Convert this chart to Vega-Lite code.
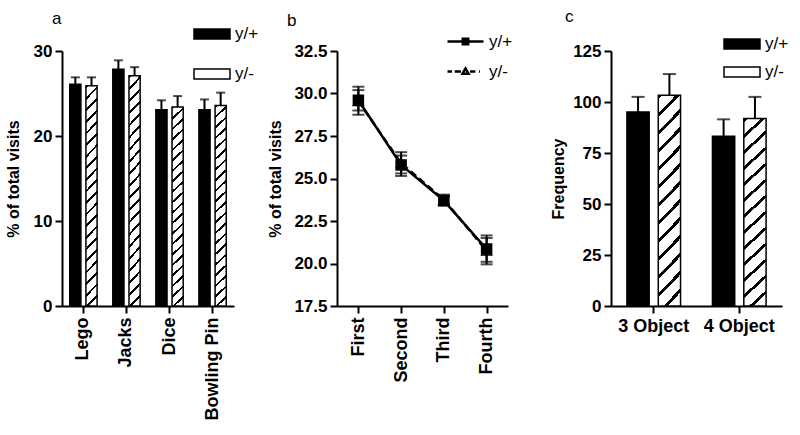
{
  "$schema": "https://vega.github.io/schema/vega-lite/v6.json",
  "background": "white",
  "padding": {"left": 5, "top": 8, "right": 5, "bottom": 5},
  "datasets": {
    "objects": [
      {"object": "Lego", "genotype": "y/+", "mean": 26.1, "upper": 26.9},
      {"object": "Lego", "genotype": "y/-", "mean": 25.9, "upper": 26.9},
      {"object": "Jacks", "genotype": "y/+", "mean": 27.85, "upper": 28.9},
      {"object": "Jacks", "genotype": "y/-", "mean": 27.1, "upper": 28.1},
      {"object": "Dice", "genotype": "y/+", "mean": 23.1, "upper": 24.2},
      {"object": "Dice", "genotype": "y/-", "mean": 23.4, "upper": 24.7},
      {"object": "Bowling Pin", "genotype": "y/+", "mean": 23.1, "upper": 24.3},
      {"object": "Bowling Pin", "genotype": "y/-", "mean": 23.6, "upper": 25.1}
    ],
    "sessions": [
      {"session": "First", "genotype": "y/-", "mean": 29.55, "lower": 28.75, "upper": 30.4},
      {"session": "Second", "genotype": "y/-", "mean": 25.9, "lower": 25.15, "upper": 26.55},
      {"session": "Third", "genotype": "y/-", "mean": 23.75, "lower": 23.4, "upper": 24.05},
      {"session": "Fourth", "genotype": "y/-", "mean": 20.75, "lower": 19.95, "upper": 21.65},
      {"session": "First", "genotype": "y/+", "mean": 29.6, "lower": 29.0, "upper": 30.2},
      {"session": "Second", "genotype": "y/+", "mean": 25.8, "lower": 25.3, "upper": 26.35},
      {"session": "Third", "genotype": "y/+", "mean": 23.7, "lower": 23.45, "upper": 23.95},
      {"session": "Fourth", "genotype": "y/+", "mean": 20.85, "lower": 20.1, "upper": 21.5}
    ],
    "tasks": [
      {"task": "3 Object", "genotype": "y/+", "mean": 95.1, "upper": 102.5},
      {"task": "3 Object", "genotype": "y/-", "mean": 103.3, "upper": 113.7},
      {"task": "4 Object", "genotype": "y/+", "mean": 83.2, "upper": 91.5},
      {"task": "4 Object", "genotype": "y/-", "mean": 91.9, "upper": 102.5}
    ]
  },
  "hconcat": [
    {
      "width": 172,
      "height": 255,
      "title": {"text": "a", "dx": -10, "offset": -13},
      "data": {"name": "objects"},
      "encoding": {
        "x": {"field": "object", "type": "nominal", "sort": ["Lego", "Jacks", "Dice", "Bowling Pin"], "scale": {"paddingInner": 0.365, "paddingOuter": 0.18}, "axis": {"title": null, "labelAngle": -90, "labelFontSize": 18, "labelPadding": 4}},
        "xOffset": {"field": "genotype", "type": "nominal", "scale": {"domain": ["y/+", "y/-"], "paddingInner": 0.31, "paddingOuter": 0}}
      },
      "layer": [
        {
          "mark": {"type": "rule", "strokeWidth": 2, "color": "black"},
          "encoding": {
            "y": {"field": "mean", "type": "quantitative", "scale": {"domain": [0, 30], "nice": false}, "axis": {"title": "% of total visits", "values": [0, 10, 20, 30], "titlePadding": 12}},
            "y2": {"field": "upper"}
          }
        },
        {
          "mark": {"type": "tick", "thickness": 2, "size": 9, "color": "black"},
          "encoding": {"y": {"field": "upper", "type": "quantitative"}}
        },
        {
          "transform": [{"filter": "datum.genotype === 'y/+'"}],
          "mark": {"type": "bar", "stroke": "black", "strokeWidth": 1.5},
          "encoding": {
            "y": {"field": "mean", "type": "quantitative"},
            "fill": {
              "field": "genotype", "type": "nominal",
              "scale": {"domain": ["y/+", "y/-"], "range": ["black", "white"]},
              "legend": {
                "orient": "none", "legendX": 131, "legendY": -36, "title": null,
                "symbolType": "M-1,-0.28H1V0.28H-1Z", "symbolSize": 1296,
                "symbolStrokeColor": "black", "symbolStrokeWidth": 1.5,
                "labelFontSize": 17, "labelOffset": 4, "rowPadding": 12,
                "encode": {"symbols": {"update": {
                  "stroke": {"value": "black"},
                  "fill": {"signal": "datum.value === 'y/-' ? {gradient: 'linear', x1: 0, y1: 0, x2: 1.186, y2: 0.33, stops: [{offset: 0, color: '#000'}, {offset: 0.06, color: '#000'}, {offset: 0.06, color: '#fff'}, {offset: 0.2, color: '#fff'}, {offset: 0.2, color: '#000'}, {offset: 0.26, color: '#000'}, {offset: 0.26, color: '#fff'}, {offset: 0.4, color: '#fff'}, {offset: 0.4, color: '#000'}, {offset: 0.46, color: '#000'}, {offset: 0.46, color: '#fff'}, {offset: 0.6, color: '#fff'}, {offset: 0.6, color: '#000'}, {offset: 0.66, color: '#000'}, {offset: 0.66, color: '#fff'}, {offset: 0.8, color: '#fff'}, {offset: 0.8, color: '#000'}, {offset: 0.86, color: '#000'}, {offset: 0.86, color: '#fff'}, {offset: 1, color: '#fff'}]} : '#000'"}
                }}}
              }
            }
          }
        },
        {
          "transform": [{"filter": "datum.genotype === 'y/-'"}],
          "mark": {
            "type": "bar", "stroke": "black", "strokeWidth": 1.5,
            "fill": {"gradient": "linear", "x1": 0, "y1": 0, "x2": 0.055, "y2": 1.05, "stops": [
              {"offset": 0, "color": "#000"}, {"offset": 0.012, "color": "#000"}, {"offset": 0.012, "color": "#fff"}, {"offset": 0.05, "color": "#fff"},
              {"offset": 0.05, "color": "#000"}, {"offset": 0.062, "color": "#000"}, {"offset": 0.062, "color": "#fff"}, {"offset": 0.1, "color": "#fff"},
              {"offset": 0.1, "color": "#000"}, {"offset": 0.112, "color": "#000"}, {"offset": 0.112, "color": "#fff"}, {"offset": 0.15, "color": "#fff"},
              {"offset": 0.15, "color": "#000"}, {"offset": 0.162, "color": "#000"}, {"offset": 0.162, "color": "#fff"}, {"offset": 0.2, "color": "#fff"},
              {"offset": 0.2, "color": "#000"}, {"offset": 0.212, "color": "#000"}, {"offset": 0.212, "color": "#fff"}, {"offset": 0.25, "color": "#fff"},
              {"offset": 0.25, "color": "#000"}, {"offset": 0.262, "color": "#000"}, {"offset": 0.262, "color": "#fff"}, {"offset": 0.3, "color": "#fff"},
              {"offset": 0.3, "color": "#000"}, {"offset": 0.312, "color": "#000"}, {"offset": 0.312, "color": "#fff"}, {"offset": 0.35, "color": "#fff"},
              {"offset": 0.35, "color": "#000"}, {"offset": 0.362, "color": "#000"}, {"offset": 0.362, "color": "#fff"}, {"offset": 0.4, "color": "#fff"},
              {"offset": 0.4, "color": "#000"}, {"offset": 0.412, "color": "#000"}, {"offset": 0.412, "color": "#fff"}, {"offset": 0.45, "color": "#fff"},
              {"offset": 0.45, "color": "#000"}, {"offset": 0.462, "color": "#000"}, {"offset": 0.462, "color": "#fff"}, {"offset": 0.5, "color": "#fff"},
              {"offset": 0.5, "color": "#000"}, {"offset": 0.512, "color": "#000"}, {"offset": 0.512, "color": "#fff"}, {"offset": 0.55, "color": "#fff"},
              {"offset": 0.55, "color": "#000"}, {"offset": 0.562, "color": "#000"}, {"offset": 0.562, "color": "#fff"}, {"offset": 0.6, "color": "#fff"},
              {"offset": 0.6, "color": "#000"}, {"offset": 0.612, "color": "#000"}, {"offset": 0.612, "color": "#fff"}, {"offset": 0.65, "color": "#fff"},
              {"offset": 0.65, "color": "#000"}, {"offset": 0.662, "color": "#000"}, {"offset": 0.662, "color": "#fff"}, {"offset": 0.7, "color": "#fff"},
              {"offset": 0.7, "color": "#000"}, {"offset": 0.712, "color": "#000"}, {"offset": 0.712, "color": "#fff"}, {"offset": 0.75, "color": "#fff"},
              {"offset": 0.75, "color": "#000"}, {"offset": 0.762, "color": "#000"}, {"offset": 0.762, "color": "#fff"}, {"offset": 0.8, "color": "#fff"},
              {"offset": 0.8, "color": "#000"}, {"offset": 0.812, "color": "#000"}, {"offset": 0.812, "color": "#fff"}, {"offset": 0.85, "color": "#fff"},
              {"offset": 0.85, "color": "#000"}, {"offset": 0.862, "color": "#000"}, {"offset": 0.862, "color": "#fff"}, {"offset": 0.9, "color": "#fff"},
              {"offset": 0.9, "color": "#000"}, {"offset": 0.912, "color": "#000"}, {"offset": 0.912, "color": "#fff"}, {"offset": 0.95, "color": "#fff"},
              {"offset": 0.95, "color": "#000"}, {"offset": 0.962, "color": "#000"}, {"offset": 0.962, "color": "#fff"}, {"offset": 1, "color": "#fff"}
            ]}
          },
          "encoding": {"y": {"field": "mean", "type": "quantitative"}}
        }
      ]
    },
    {
      "width": 171,
      "height": 255,
      "title": {"text": "b", "dx": -50, "offset": -8},
      "data": {"name": "sessions"},
      "encoding": {
        "x": {"field": "session", "type": "ordinal", "sort": ["First", "Second", "Third", "Fourth"], "scale": {"type": "point", "padding": 0.5}, "axis": {"title": null, "labelAngle": -90, "labelFontSize": 18, "labelPadding": 4}}
      },
      "layer": [
        {
          "mark": {"type": "rule", "strokeWidth": 2, "color": "black"},
          "encoding": {
            "y": {"field": "lower", "type": "quantitative", "scale": {"domain": [17.5, 32.5], "nice": false, "zero": false}, "axis": {"title": "% of total visits", "values": [17.5, 20, 22.5, 25, 27.5, 30, 32.5], "format": ".1f", "titlePadding": 10}},
            "y2": {"field": "upper"},
            "detail": {"field": "genotype"}
          }
        },
        {
          "mark": {"type": "tick", "thickness": 2, "size": 12, "color": "black"},
          "encoding": {"y": {"field": "lower", "type": "quantitative"}}
        },
        {
          "mark": {"type": "tick", "thickness": 2, "size": 12, "color": "black"},
          "encoding": {"y": {"field": "upper", "type": "quantitative"}}
        },
        {
          "transform": [{"filter": "datum.genotype === 'y/-'"}],
          "mark": {"type": "line", "color": "black", "strokeWidth": 2.5, "strokeDash": [7, 4]},
          "encoding": {"y": {"field": "mean", "type": "quantitative"}}
        },
        {
          "transform": [{"filter": "datum.genotype === 'y/+'"}],
          "mark": {"type": "line", "color": "black", "strokeWidth": 2.5},
          "encoding": {"y": {"field": "mean", "type": "quantitative"}}
        },
        {
          "transform": [{"filter": "datum.genotype === 'y/-'"}],
          "mark": {"type": "point", "filled": true, "shape": "triangle-up", "size": 100, "stroke": "black", "strokeWidth": 1.5, "opacity": 1},
          "encoding": {
            "y": {"field": "mean", "type": "quantitative"},
            "fill": {
              "field": "genotype", "type": "nominal",
              "scale": {"domain": ["y/-"], "range": ["white"]},
              "legend": {
                "orient": "none", "legendX": 109, "legendY": 1, "title": null,
                "symbolType": "M-1,0H-0.75M-0.6,0H-0.25M0.25,0H0.55M0.75,0H0.8M0,-0.17L0.17,0.13H-0.17Z",
                "symbolSize": 1296, "symbolStrokeColor": "black", "symbolStrokeWidth": 2.5, "symbolFillColor": "white",
                "labelFontSize": 17, "labelOffset": 4
              }
            }
          }
        },
        {
          "transform": [{"filter": "datum.genotype === 'y/+'"}],
          "mark": {"type": "point", "filled": true, "shape": "square", "fill": "black", "size": 100, "strokeWidth": 1.5, "opacity": 1},
          "encoding": {
            "y": {"field": "mean", "type": "quantitative"},
            "stroke": {
              "field": "genotype", "type": "nominal",
              "scale": {"domain": ["y/+"], "range": ["black"]},
              "legend": {
                "orient": "none", "legendX": 109, "legendY": -29, "title": null,
                "symbolType": "M-1,0H-0.15M0.15,0H1M-0.15,-0.15H0.15V0.15H-0.15Z",
                "symbolSize": 1296, "symbolStrokeColor": "black", "symbolStrokeWidth": 2.5, "symbolFillColor": "black",
                "labelFontSize": 17, "labelOffset": 4
              }
            }
          }
        }
      ]
    },
    {
      "width": 171,
      "height": 255,
      "title": {"text": "c", "dx": -46, "offset": -1},
      "data": {"name": "tasks"},
      "encoding": {
        "x": {"field": "task", "type": "nominal", "sort": ["3 Object", "4 Object"], "scale": {"paddingInner": 0.373, "paddingOuter": 0.186}, "axis": {"title": null, "labelAngle": 0, "labelFontSize": 18, "labelPadding": 4}},
        "xOffset": {"field": "genotype", "type": "nominal", "scale": {"domain": ["y/+", "y/-"], "paddingInner": 0.29, "paddingOuter": 0}}
      },
      "layer": [
        {
          "mark": {"type": "rule", "strokeWidth": 2, "color": "black"},
          "encoding": {
            "y": {"field": "mean", "type": "quantitative", "scale": {"domain": [0, 125], "nice": false}, "axis": {"title": "Frequency", "values": [0, 25, 50, 75, 100, 125], "titlePadding": 6}},
            "y2": {"field": "upper"}
          }
        },
        {
          "mark": {"type": "tick", "thickness": 2, "size": 13, "color": "black"},
          "encoding": {"y": {"field": "upper", "type": "quantitative"}}
        },
        {
          "transform": [{"filter": "datum.genotype === 'y/+'"}],
          "mark": {"type": "bar", "stroke": "black", "strokeWidth": 1.5},
          "encoding": {
            "y": {"field": "mean", "type": "quantitative"},
            "fill": {
              "field": "genotype", "type": "nominal",
              "scale": {"domain": ["y/+", "y/-"], "range": ["black", "white"]},
              "legend": {
                "orient": "none", "legendX": 112, "legendY": -26, "title": null,
                "symbolType": "M-1,-0.28H1V0.28H-1Z", "symbolSize": 1296,
                "symbolStrokeColor": "black", "symbolStrokeWidth": 1.5,
                "labelFontSize": 17, "labelOffset": 4, "rowPadding": 0,
                "encode": {"symbols": {"update": {
                  "stroke": {"value": "black"},
                  "fill": {"signal": "datum.value === 'y/-' ? {gradient: 'linear', x1: 0, y1: 0, x2: 1.186, y2: 0.33, stops: [{offset: 0, color: '#000'}, {offset: 0.06, color: '#000'}, {offset: 0.06, color: '#fff'}, {offset: 0.2, color: '#fff'}, {offset: 0.2, color: '#000'}, {offset: 0.26, color: '#000'}, {offset: 0.26, color: '#fff'}, {offset: 0.4, color: '#fff'}, {offset: 0.4, color: '#000'}, {offset: 0.46, color: '#000'}, {offset: 0.46, color: '#fff'}, {offset: 0.6, color: '#fff'}, {offset: 0.6, color: '#000'}, {offset: 0.66, color: '#000'}, {offset: 0.66, color: '#fff'}, {offset: 0.8, color: '#fff'}, {offset: 0.8, color: '#000'}, {offset: 0.86, color: '#000'}, {offset: 0.86, color: '#fff'}, {offset: 1, color: '#fff'}]} : '#000'"}
                }}}
              }
            }
          }
        },
        {
          "transform": [{"filter": "datum.genotype === 'y/-'"}],
          "mark": {
            "type": "bar", "stroke": "black", "strokeWidth": 1.5,
            "fill": {"gradient": "linear", "x1": 0, "y1": 0, "x2": 0.12, "y2": 1.097, "stops": [
              {"offset": 0, "color": "#000"}, {"offset": 0.018, "color": "#000"}, {"offset": 0.018, "color": "#fff"}, {"offset": 0.0769, "color": "#fff"},
              {"offset": 0.0769, "color": "#000"}, {"offset": 0.0949, "color": "#000"}, {"offset": 0.0949, "color": "#fff"}, {"offset": 0.1538, "color": "#fff"},
              {"offset": 0.1538, "color": "#000"}, {"offset": 0.1718, "color": "#000"}, {"offset": 0.1718, "color": "#fff"}, {"offset": 0.2308, "color": "#fff"},
              {"offset": 0.2308, "color": "#000"}, {"offset": 0.2488, "color": "#000"}, {"offset": 0.2488, "color": "#fff"}, {"offset": 0.3077, "color": "#fff"},
              {"offset": 0.3077, "color": "#000"}, {"offset": 0.3257, "color": "#000"}, {"offset": 0.3257, "color": "#fff"}, {"offset": 0.3846, "color": "#fff"},
              {"offset": 0.3846, "color": "#000"}, {"offset": 0.4026, "color": "#000"}, {"offset": 0.4026, "color": "#fff"}, {"offset": 0.4615, "color": "#fff"},
              {"offset": 0.4615, "color": "#000"}, {"offset": 0.4795, "color": "#000"}, {"offset": 0.4795, "color": "#fff"}, {"offset": 0.5385, "color": "#fff"},
              {"offset": 0.5385, "color": "#000"}, {"offset": 0.5565, "color": "#000"}, {"offset": 0.5565, "color": "#fff"}, {"offset": 0.6154, "color": "#fff"},
              {"offset": 0.6154, "color": "#000"}, {"offset": 0.6334, "color": "#000"}, {"offset": 0.6334, "color": "#fff"}, {"offset": 0.6923, "color": "#fff"},
              {"offset": 0.6923, "color": "#000"}, {"offset": 0.7103, "color": "#000"}, {"offset": 0.7103, "color": "#fff"}, {"offset": 0.7692, "color": "#fff"},
              {"offset": 0.7692, "color": "#000"}, {"offset": 0.7872, "color": "#000"}, {"offset": 0.7872, "color": "#fff"}, {"offset": 0.8462, "color": "#fff"},
              {"offset": 0.8462, "color": "#000"}, {"offset": 0.8642, "color": "#000"}, {"offset": 0.8642, "color": "#fff"}, {"offset": 0.9231, "color": "#fff"},
              {"offset": 0.9231, "color": "#000"}, {"offset": 0.9411, "color": "#000"}, {"offset": 0.9411, "color": "#fff"}, {"offset": 1, "color": "#fff"}
            ]}
          },
          "encoding": {"y": {"field": "mean", "type": "quantitative"}}
        }
      ]
    }
  ],
  "spacing": 103,
  "bounds": "flush",
  "resolve": {
    "scale": {"x": "independent", "y": "independent", "fill": "independent", "stroke": "independent", "xOffset": "independent"},
    "legend": {"fill": "independent", "stroke": "independent"}
  },
  "config": {
    "view": {"stroke": null},
    "font": "Liberation Sans",
    "axis": {
      "grid": false, "domainColor": "black", "domainWidth": 2, "tickColor": "black", "tickWidth": 2, "tickSize": 7,
      "labelFont": "Liberation Sans", "labelFontWeight": "bold", "labelFontSize": 17, "labelColor": "black", "labelPadding": 3,
      "titleFont": "Liberation Sans", "titleFontWeight": "bold", "titleFontSize": 16, "titleColor": "black"
    },
    "legend": {"labelFont": "Liberation Sans", "labelColor": "black", "labelFontWeight": "normal"},
    "title": {"font": "Liberation Sans", "fontSize": 17, "fontWeight": "normal", "anchor": "start", "color": "black", "frame": "group"}
  }
}
